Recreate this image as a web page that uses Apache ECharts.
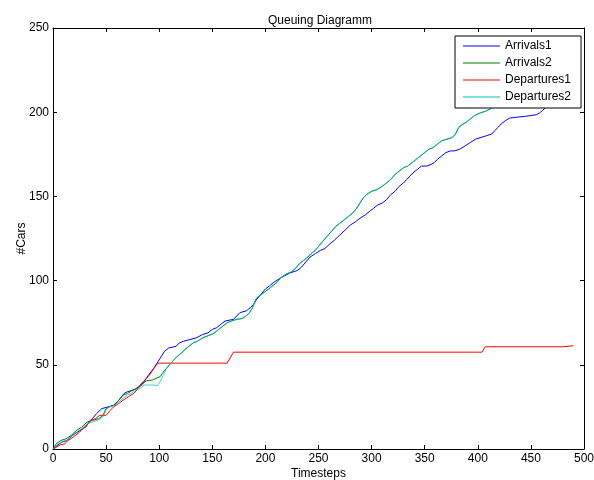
<!DOCTYPE html>
<html>
<head>
<meta charset="utf-8">
<script src="https://cdn.jsdelivr.net/npm/echarts@6/dist/echarts.min.js"></script>
<style>
html,body{margin:0;padding:0;background:#fff;}
#chart{width:594px;height:480px;}
</style>
</head>
<body>
<div id="chart"></div>
<script>
// ---- Data (timestep, cumulative cars) ----
var seriesNames = ['Arrivals1', 'Arrivals2', 'Departures1', 'Departures2'];
var xTicks = [0, 50, 100, 150, 200, 250, 300, 350, 400, 450, 500];
var yTicks = [0, 50, 100, 150, 200, 250];

var arrivals1 = [[0,0],[4,2],[8,4],[13,5],[18,8],[23,10],[28,12],[33,15],[37,18],[41,21],[46,24],[52,25],[57,26],[62,29],[67,33],[70,34],[76,35],[81,37],[86,40],[90,44],[95,48],[99,52],[101,54],[105,58],[109,60],[116,61],[119,63],[123,64],[129,65],[135,66],[141,68],[146,69],[150,71],[154,72],[158,74],[162,76],[170,77],[173,79],[176,81],[182,82],[186,84],[189,86],[192,89],[196,92],[200,95],[204,97],[208,99],[213,101],[217,102.5],[223,104.5],[230,106],[234,108],[238,111],[242,114],[247,116],[252,118],[256,119],[261,122],[265,124],[270,127],[275,130],[280,133],[285,135],[289,137],[294,139],[298,141],[302,143],[306,145],[310,146],[314,148],[318,151],[322,153],[326,156],[330,158],[333,160],[336,162],[339,164],[343,166],[347,168],[352,168],[356,169],[359,170],[362,172],[366,174],[370,176],[374,177],[378,177],[383,178],[388,180],[393,182],[398,184],[403,185],[408,186],[413,187],[416,189],[419,191],[422,193],[426,195],[430,196.5],[436,197],[444,197.5],[450,198],[455,198.5],[458,199.5],[461,201],[464,203],[468,206],[473,208],[478,210],[484,212],[490,214]];

var arrivals2 = [[0,0],[3,3],[7,5],[12,6],[17,8],[22,11],[27,13],[32,16],[37,17],[43,18],[47,20],[50,24],[53,25],[58,26],[62,29],[66,32],[70,33],[75,35],[79,36],[82,37],[85,39],[88,40.5],[94,41],[97,42],[101,43],[103,45],[107,48],[111,51],[114,53],[117,55],[121,57],[124,59],[128,61],[132,63],[136,64],[141,66],[145,67],[149,68],[152,69],[156,71],[160,73],[164,75],[168,76],[173,77],[178,77.5],[182,79],[185,81],[188,84],[191,89],[194,91],[199,93],[203,95],[207,97],[211,99],[215,102],[220,104],[224,105],[228,107],[232,110],[236,112],[240,114],[243,116],[247,118],[251,121],[255,124],[259,127],[262,129],[266,132],[270,134],[274,136],[278,138],[282,140],[286,143],[289,146],[292,149],[295,151],[300,153],[305,154],[310,156],[314,158],[318,160],[322,163],[326,165],[330,167],[334,168],[338,170],[342,172],[346,174],[350,176],[354,178],[358,179],[362,181],[366,183],[371,184],[376,185],[379,187],[382,191],[385,192.5],[389,194],[393,196],[397,198],[402,199.5],[407,200.5],[412,202],[416,204.5],[422,207],[428,210],[434,213],[440,216],[446,219],[452,222],[458,225],[464,228],[470,231],[478,234],[486,237]];

var departures1 = [[0,0],[3,1],[7,2.5],[11,3],[14,5],[19,7],[25,10],[28,12],[31,13],[35,17],[40,18],[44,20],[50,20],[54,23],[57,25],[62,27],[66,29],[71,31],[76,33],[79,35],[82,38],[85,40],[88,42],[91,44],[94,47],[97,49.5],[99,51],[164,51],[170,57.5],[404,57.5],[407,60.7],[480,60.7],[481,61.3],[490,61.3]];

var departures2Early = [[0,0],[3,2],[7,4],[12,5],[17,7],[22,10],[27,12],[32,15],[37,16],[42,17],[47,19],[50,23],[53,25],[58,26],[62,28],[66,30],[70,32],[74,33],[78,35],[82,36],[86,38],[90,38],[95,38],[98,37.5],[101,40],[104,44]];
var departures2Late = [[107,48],[111,51],[114,53],[117,55],[121,57],[124,59],[128,61],[132,63],[136,64],[141,66],[145,67],[149,68],[152,69],[156,71],[160,73],[164,75],[168,76],[173,77],[178,77.5],[182,79],[185,81],[188,84],[191,89],[194,91],[199,93],[203,95],[207,97],[211,99],[215,102],[220,104],[224,105],[228,107],[232,110],[236,112],[240,114],[243,116],[247,118],[251,121],[255,124],[259,127],[262,129],[266,132],[270,134],[274,136],[278,138],[282,140],[286,143],[289,146],[292,149],[295,151],[300,153],[305,154],[310,156],[314,158],[318,160],[322,163],[326,165],[330,167],[334,168],[338,170],[342,172],[346,174],[350,176],[354,178],[358,179],[362,181],[366,183],[371,184],[376,185],[379,187],[382,191],[385,192.5],[389,194],[393,196],[397,198],[402,199.5],[407,200.5],[412,202],[416,204.5],[422,207],[428,210],[434,213],[440,216],[446,219],[452,222],[458,225],[464,228],[470,231],[478,234],[486,237]];
var departures2 = departures2Early.concat(departures2Late);

var colors = ['#0000ff', '#008000', '#ff0000', '#00bfbf'];

var FONT = 'Liberation Sans, Helvetica, Arial, sans-serif';
var chart = echarts.init(document.getElementById('chart'), null, {renderer: 'canvas'});

function mkX(pos, showLabel) {
  return {
    type: 'value', position: pos, min: xTicks[0], max: xTicks[xTicks.length - 1], interval: xTicks[1] - xTicks[0],
    axisLine: {show: true, onZero: false, lineStyle: {color: '#000', width: 1}},
    axisTick: {show: true, inside: true, length: 4, lineStyle: {color: '#000'}},
    axisLabel: {show: showLabel, color: '#000', fontSize: 12, fontFamily: FONT, margin: 4},
    splitLine: {show: false},
    name: showLabel ? 'Timesteps' : '', nameLocation: 'middle', nameGap: 19, nameMoveOverlap: false,
    nameTextStyle: {color: '#000', fontSize: 12, fontFamily: FONT}
  };
}
function mkY(pos, showLabel) {
  return {
    type: 'value', position: pos, min: yTicks[0], max: yTicks[yTicks.length - 1], interval: yTicks[1] - yTicks[0],
    axisLine: {show: true, onZero: false, lineStyle: {color: '#000', width: 1}},
    axisTick: {show: true, inside: true, length: 4, lineStyle: {color: '#000'}},
    axisLabel: {show: showLabel, color: '#000', fontSize: 12, fontFamily: FONT, margin: 4},
    splitLine: {show: false},
    name: showLabel ? '#Cars' : '', nameLocation: 'middle', nameGap: 25, nameMoveOverlap: false,
    nameTextStyle: {color: '#000', fontSize: 12, fontFamily: FONT}
  };
}

function mkSeries(name, data, color, opacity, z) {
  return {
    name: name, type: 'line', data: data, showSymbol: false, symbol: 'none',
    xAxisIndex: 0, yAxisIndex: 0, z: z,
    lineStyle: {color: color, width: 1, opacity: opacity},
    itemStyle: {color: color},
    animation: false, silent: true
  };
}

chart.setOption({
  animation: false,
  backgroundColor: '#fff',
  title: {
    text: 'Queuing Diagramm', left: 315, top: 10, textAlign: 'center',
    textStyle: {color: '#000', fontSize: 12, fontWeight: 'normal', fontFamily: FONT}
  },
  grid: {left: 53, right: 10, top: 28, bottom: 31, containLabel: false, outerBoundsMode: 'none'},
  xAxis: [mkX('bottom', true), mkX('top', false)],
  yAxis: [mkY('left', true), mkY('right', false)],
  legend: {
    data: seriesNames, orient: 'vertical', left: 455, top: 36,
    icon: 'rect', itemWidth: 37, itemHeight: 1, itemGap: 3,
    padding: [3, 10, 4, 8],
    backgroundColor: '#fff', borderColor: '#000', borderWidth: 1, borderRadius: 0,
    textStyle: {color: '#000', fontSize: 12, fontFamily: FONT, lineHeight: 14},
    selectedMode: false, z: 10
  },
  series: [
    mkSeries(seriesNames[0], arrivals1, colors[0], 1, 2),
    mkSeries(seriesNames[1], arrivals2, colors[1], 1, 3),
    mkSeries(seriesNames[2], departures1, colors[2], 1, 4),
    mkSeries(seriesNames[3], departures2, colors[3], 0.75, 5)
  ]
});
</script>
</body>
</html>
